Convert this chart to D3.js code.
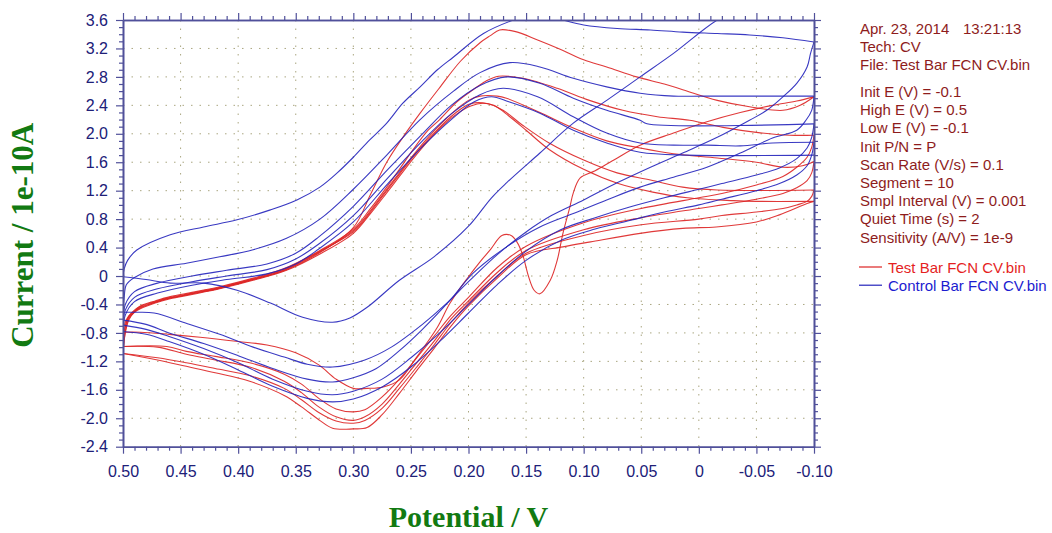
<!DOCTYPE html>
<html><head><meta charset="utf-8">
<script src="https://cdn.jsdelivr.net/npm/d3@7"></script>
<style>body{margin:0;background:#fff}svg{display:block}</style>
</head><body><svg id="chart" width="1052" height="533"></svg>
<script>
// ---------- axis ticks ----------
const xTicks = [0.50,0.45,0.40,0.35,0.30,0.25,0.20,0.15,0.10,0.05,0,-0.05,-0.10];
const xTickLabels = ["0.50","0.45","0.40","0.35","0.30","0.25","0.20","0.15","0.10","0.05","0","-0.05","-0.10"];
const yTicks = [3.6,3.2,2.8,2.4,2.0,1.6,1.2,0.8,0.4,0,-0.4,-0.8,-1.2,-1.6,-2.0,-2.4];
const yTickLabels = ["3.6","3.2","2.8","2.4","2.0","1.6","1.2","0.8","0.4","0","-0.4","-0.8","-1.2","-1.6","-2.0","-2.4"];

// ---------- info text ----------
const infoDate = "Apr. 23, 2014";
const infoTime = "13:21:13";
const infoHeader = ["Tech: CV", "File: Test Bar FCN CV.bin"];
const infoParams = ["Init E (V) = -0.1","High E (V) = 0.5","Low E (V) = -0.1","Init P/N = P",
  "Scan Rate (V/s) = 0.1","Segment = 10","Smpl Interval (V) = 0.001","Quiet Time (s) = 2","Sensitivity (A/V) = 1e-9"];
const legendNames = ["Test Bar FCN CV.bin","Control Bar FCN CV.bin"];

// ---------- Test (red) series: [potential V, current 1e-10 A] ----------
const testForward1 = [[-0.1,2.52],[-0.085,2.46],[-0.064,2.4],[-0.036,2.3],[-0.007,2.17],[0.022,2.01],[0.051,1.84],[0.075,1.62],[0.09,1.48],[0.103,1.38],[0.109,1.17],[0.112,0.97],[0.118,0.6],[0.123,0.22],[0.129,-0.06],[0.138,-0.25],[0.143,-0.2],[0.148,0.0],[0.153,0.3],[0.158,0.48],[0.163,0.57],[0.171,0.57],[0.181,0.37],[0.19,0.2],[0.2,-0.01],[0.216,-0.38],[0.227,-0.72],[0.245,-1.14],[0.26,-1.46],[0.274,-1.56],[0.288,-1.58],[0.3,-1.58],[0.315,-1.45],[0.33,-1.25],[0.35,-1.08],[0.375,-0.97],[0.4,-0.92],[0.433,-0.86],[0.46,-0.82],[0.485,-0.79],[0.5,-0.79]];
const testForward2 = [[-0.1,1.98],[-0.098,1.81],[-0.094,1.67],[-0.085,1.53],[-0.073,1.4],[-0.05,1.28],[-0.02,1.16],[0,1.1],[0.05,0.95],[0.1,0.75],[0.15,0.42],[0.175,0.12],[0.2,-0.3],[0.215,-0.55],[0.23,-0.85],[0.245,-1.15],[0.26,-1.45],[0.275,-1.7],[0.29,-1.88],[0.3,-1.91],[0.315,-1.87],[0.33,-1.72],[0.345,-1.52],[0.36,-1.38],[0.39,-1.22],[0.42,-1.13],[0.445,-1.06],[0.462,-0.99],[0.5,-0.99]];
const testForward3 = [[-0.1,1.61],[-0.098,1.45],[-0.094,1.34],[-0.085,1.24],[-0.073,1.16],[-0.05,1.08],[-0.02,1.0],[0,0.95],[0.05,0.82],[0.1,0.65],[0.15,0.36],[0.175,0.05],[0.2,-0.35],[0.215,-0.6],[0.23,-0.92],[0.245,-1.22],[0.26,-1.52],[0.275,-1.8],[0.29,-1.98],[0.3,-2.03],[0.315,-1.98],[0.33,-1.84],[0.345,-1.64],[0.36,-1.48],[0.39,-1.28],[0.42,-1.18],[0.445,-1.1],[0.47,-1.0],[0.5,-0.99]];
const testForward4 = [[-0.1,1.21],[-0.098,1.12],[-0.094,1.05],[-0.085,1.0],[-0.073,0.95],[-0.05,0.9],[-0.02,0.85],[0,0.8],[0.05,0.72],[0.1,0.57],[0.15,0.32],[0.175,0.0],[0.2,-0.38],[0.215,-0.65],[0.23,-0.97],[0.245,-1.28],[0.26,-1.58],[0.275,-1.86],[0.29,-2.03],[0.3,-2.07],[0.315,-2.04],[0.33,-1.92],[0.345,-1.74],[0.36,-1.58],[0.39,-1.4],[0.42,-1.3],[0.445,-1.22],[0.47,-1.15],[0.5,-1.09]];
const testForward5 = [[-0.1,1.05],[-0.094,1.02],[-0.07,0.86],[-0.05,0.76],[-0.015,0.69],[0.014,0.67],[0.051,0.6],[0.094,0.48],[0.118,0.41],[0.15,0.3],[0.175,-0.03],[0.2,-0.42],[0.215,-0.7],[0.23,-1.02],[0.245,-1.33],[0.26,-1.65],[0.275,-1.95],[0.288,-2.13],[0.3,-2.15],[0.318,-2.14],[0.33,-2.02],[0.345,-1.84],[0.36,-1.68],[0.39,-1.48],[0.42,-1.36],[0.445,-1.27],[0.47,-1.18],[0.5,-1.09]];
const testReverse1 = [[0.5,-1.09],[0.498,-0.8],[0.495,-0.62],[0.49,-0.5],[0.485,-0.44],[0.472,-0.37],[0.459,-0.31],[0.44,-0.25],[0.416,-0.17],[0.387,-0.05],[0.358,0.09],[0.329,0.33],[0.3,0.68],[0.285,1.15],[0.271,1.6],[0.257,1.95],[0.242,2.29],[0.225,2.65],[0.207,3.02],[0.19,3.28],[0.181,3.38],[0.173,3.46],[0.16,3.44],[0.14,3.32],[0.122,3.2],[0.1,3.04],[0.08,2.94],[0.054,2.8],[0.03,2.7],[0.014,2.62],[-0.016,2.47],[-0.044,2.38],[-0.073,2.33],[-0.088,2.4],[-0.1,2.52]];
const testReverse2 = [[0.5,-0.79],[0.498,-0.65],[0.495,-0.56],[0.49,-0.48],[0.485,-0.42],[0.472,-0.35],[0.459,-0.29],[0.44,-0.23],[0.416,-0.15],[0.387,-0.03],[0.358,0.12],[0.329,0.36],[0.3,0.66],[0.285,0.95],[0.271,1.25],[0.26,1.5],[0.248,1.78],[0.235,2.05],[0.225,2.2],[0.21,2.45],[0.196,2.62],[0.185,2.74],[0.174,2.81],[0.153,2.78],[0.123,2.64],[0.095,2.47],[0.066,2.33],[0.036,2.24],[0.008,2.19],[-0.021,2.09],[-0.05,2.02],[-0.079,1.98],[-0.1,1.98]];
const testReverse3 = [[0.5,-0.99],[0.498,-0.72],[0.495,-0.58],[0.49,-0.5],[0.485,-0.45],[0.472,-0.37],[0.459,-0.31],[0.44,-0.25],[0.416,-0.17],[0.387,-0.05],[0.358,0.1],[0.329,0.34],[0.3,0.64],[0.285,0.92],[0.271,1.22],[0.26,1.45],[0.248,1.7],[0.235,1.95],[0.222,2.17],[0.21,2.35],[0.2,2.47],[0.19,2.53],[0.175,2.53],[0.167,2.5],[0.138,2.3],[0.109,2.08],[0.08,1.9],[0.051,1.8],[0.022,1.72],[-0.016,1.66],[-0.05,1.6],[-0.073,1.53],[-0.09,1.55],[-0.1,1.61]];
const testReverse4 = [[0.5,-0.99],[0.498,-0.7],[0.495,-0.57],[0.49,-0.49],[0.485,-0.43],[0.472,-0.36],[0.459,-0.3],[0.44,-0.24],[0.416,-0.16],[0.387,-0.04],[0.358,0.11],[0.329,0.35],[0.3,0.62],[0.285,0.9],[0.271,1.2],[0.26,1.43],[0.248,1.68],[0.235,1.92],[0.222,2.14],[0.21,2.31],[0.199,2.42],[0.185,2.43],[0.17,2.33],[0.153,2.12],[0.13,1.87],[0.1,1.63],[0.071,1.45],[0.042,1.35],[0.014,1.25],[-0.016,1.21],[-0.1,1.21]];
const testReverse5 = [[0.5,-1.09],[0.498,-0.78],[0.495,-0.6],[0.49,-0.51],[0.485,-0.46],[0.472,-0.38],[0.459,-0.32],[0.44,-0.26],[0.416,-0.18],[0.387,-0.06],[0.358,0.08],[0.329,0.31],[0.3,0.6],[0.285,0.88],[0.271,1.17],[0.26,1.4],[0.248,1.65],[0.235,1.9],[0.222,2.12],[0.21,2.28],[0.198,2.39],[0.188,2.43],[0.178,2.4],[0.165,2.25],[0.15,2.05],[0.13,1.78],[0.1,1.5],[0.07,1.3],[0.04,1.18],[0.01,1.1],[-0.03,1.06],[-0.05,1.05],[-0.1,1.05]];

// ---------- Control (blue) series ----------
const controlForward1 = [[-0.04,3.78],[-0.016,3.6],[0.022,3.13],[0.051,2.8],[0.08,2.47],[0.109,2.15],[0.138,1.73],[0.167,1.31],[0.18,1.1],[0.2,0.7],[0.23,0.27],[0.26,-0.06],[0.288,-0.44],[0.303,-0.59],[0.318,-0.65],[0.344,-0.58],[0.372,-0.38],[0.401,-0.2],[0.43,-0.1],[0.459,-0.1],[0.48,-0.05],[0.5,-0.01]];
const controlReverse1 = [[0.5,-0.01],[0.499,0.1],[0.496,0.22],[0.488,0.365],[0.459,0.58],[0.43,0.69],[0.401,0.79],[0.372,0.93],[0.349,1.07],[0.329,1.25],[0.314,1.45],[0.3,1.67],[0.286,1.91],[0.271,2.15],[0.257,2.43],[0.242,2.66],[0.227,2.9],[0.213,3.08],[0.187,3.41],[0.161,3.6],[0.14,3.7],[0.118,3.6],[0.1,3.53],[0.071,3.48],[0.042,3.46],[0.014,3.43],[-0.016,3.41],[-0.044,3.39],[-0.073,3.35],[-0.1,3.29]];
const controlForward2 = [[-0.1,3.29],[-0.097,3.13],[-0.094,2.94],[-0.085,2.71],[-0.073,2.52],[-0.059,2.33],[-0.044,2.19],[-0.016,1.95],[0.014,1.73],[0.042,1.53],[0.071,1.31],[0.1,1.07],[0.128,0.85],[0.15,0.62],[0.175,0.3],[0.2,-0.08],[0.22,-0.4],[0.24,-0.68],[0.267,-1.0],[0.29,-1.18],[0.318,-1.28],[0.34,-1.24],[0.36,-1.14],[0.387,-1.0],[0.416,-0.82],[0.444,-0.67],[0.473,-0.52],[0.49,-0.51],[0.5,-0.51]];
const controlReverse2 = [[0.5,-0.51],[0.499,-0.3],[0.497,-0.12],[0.49,-0.02],[0.474,0.1],[0.445,0.18],[0.416,0.27],[0.387,0.37],[0.358,0.53],[0.329,0.8],[0.3,1.22],[0.271,1.7],[0.242,2.2],[0.213,2.6],[0.19,2.86],[0.164,3.0],[0.138,2.94],[0.109,2.78],[0.08,2.66],[0.051,2.57],[0.022,2.53],[-0.005,2.53],[-0.1,2.53]];
const controlForward3 = [[-0.1,2.53],[-0.098,2.33],[-0.093,2.19],[-0.085,2.05],[-0.064,1.94],[-0.036,1.73],[-0.007,1.53],[0.022,1.39],[0.051,1.25],[0.08,1.07],[0.109,0.88],[0.138,0.69],[0.167,0.41],[0.196,0.04],[0.216,-0.34],[0.24,-0.75],[0.26,-1.05],[0.28,-1.3],[0.3,-1.43],[0.318,-1.49],[0.34,-1.45],[0.37,-1.3],[0.4,-1.12],[0.43,-0.95],[0.46,-0.8],[0.48,-0.68],[0.5,-0.62]];
const controlReverse3 = [[0.5,-0.62],[0.498,-0.4],[0.49,-0.22],[0.47,-0.1],[0.44,0.0],[0.41,0.08],[0.375,0.17],[0.35,0.32],[0.33,0.55],[0.3,0.98],[0.27,1.5],[0.24,2.0],[0.215,2.4],[0.19,2.68],[0.167,2.8],[0.138,2.71],[0.109,2.5],[0.08,2.33],[0.051,2.19],[0.045,2.14],[-0.1,2.14]];
const controlForward4 = [[-0.1,2.14],[-0.098,1.95],[-0.094,1.8],[-0.085,1.65],[-0.07,1.52],[-0.05,1.42],[-0.02,1.3],[0,1.22],[0.03,1.1],[0.06,0.97],[0.09,0.82],[0.12,0.65],[0.15,0.35],[0.175,0.0],[0.2,-0.4],[0.225,-0.8],[0.25,-1.15],[0.275,-1.45],[0.3,-1.62],[0.318,-1.67],[0.34,-1.62],[0.37,-1.45],[0.4,-1.22],[0.43,-1.02],[0.46,-0.85],[0.48,-0.75],[0.5,-0.69]];
const controlReverse4 = [[0.5,-0.69],[0.498,-0.48],[0.49,-0.3],[0.47,-0.18],[0.44,-0.08],[0.41,0.0],[0.375,0.09],[0.35,0.24],[0.33,0.45],[0.3,0.85],[0.27,1.38],[0.24,1.9],[0.215,2.28],[0.19,2.55],[0.17,2.64],[0.14,2.52],[0.109,2.24],[0.08,2.01],[0.051,1.87],[0.022,1.84],[-0.007,1.84],[-0.036,1.83],[-0.064,1.87],[-0.1,1.88]];
const controlForward5 = [[-0.1,1.88],[-0.098,1.7],[-0.094,1.55],[-0.085,1.42],[-0.07,1.3],[-0.05,1.2],[-0.02,1.08],[0,1.0],[0.03,0.9],[0.06,0.78],[0.09,0.66],[0.12,0.5],[0.15,0.22],[0.175,-0.12],[0.2,-0.52],[0.225,-0.92],[0.25,-1.28],[0.275,-1.56],[0.3,-1.73],[0.318,-1.77],[0.34,-1.72],[0.37,-1.55],[0.4,-1.32],[0.43,-1.1],[0.46,-0.92],[0.48,-0.82],[0.5,-0.78]];
const controlReverse5 = [[0.5,-0.78],[0.498,-0.55],[0.49,-0.36],[0.47,-0.24],[0.44,-0.13],[0.41,-0.05],[0.375,0.03],[0.35,0.17],[0.33,0.38],[0.3,0.76],[0.27,1.3],[0.24,1.82],[0.215,2.2],[0.195,2.45],[0.18,2.52],[0.165,2.45],[0.138,2.29],[0.109,2.05],[0.08,1.87],[0.051,1.74],[0.01,1.7],[-0.1,1.7]];

const testSegments = [testForward5, testReverse1, testForward1, testReverse2, testForward2, testReverse3, testForward3, testReverse4, testForward4, testReverse5];
const controlSegments = [controlForward1, controlReverse1, controlForward2, controlReverse2, controlForward3, controlReverse3, controlForward4, controlReverse4, controlForward5, controlReverse5];

// ---------- drawing ----------
const L = 123, R = 814, T = 20, B = 446.7;
const AXIS = "#50509a", TXT = "#202078", GRID = "#aaa680";
const RED = "#dd2424", BLUE = "#2424bb";

const svg = d3.select("#chart");
const x = d3.scaleLinear().domain([0.5, -0.1]).range([L, R]);
const y = d3.scaleLinear().domain([-2.4, 3.6]).range([B, T]);

svg.append("defs").append("clipPath").attr("id", "plotclip")
  .append("rect").attr("x", L).attr("y", T).attr("width", R - L).attr("height", B - T);

// grid
const grid = svg.append("g");
grid.selectAll(".vg").data(xTicks.slice(1, -1)).join("line")
  .attr("x1", d => x(d)).attr("x2", d => x(d)).attr("y1", T).attr("y2", B)
  .attr("stroke", GRID).attr("stroke-width", 1).attr("stroke-dasharray", "1.5,7");
grid.selectAll(".hg").data(yTicks.slice(1, -1)).join("line")
  .attr("y1", d => y(d)).attr("y2", d => y(d)).attr("x1", L).attr("x2", R)
  .attr("stroke", GRID).attr("stroke-width", 1).attr("stroke-dasharray", "1.5,7");

// curves
const line = d3.line().x(d => x(d[0])).y(d => y(d[1])).curve(d3.curveCatmullRom.alpha(0.5));
const curves = svg.append("g").attr("clip-path", "url(#plotclip)");
curves.selectAll(".t").data(testSegments).join("path")
  .attr("d", line).attr("fill", "none").attr("stroke", RED).attr("stroke-width", 1.1).attr("stroke-opacity", 0.9);
curves.selectAll(".c").data(controlSegments).join("path")
  .attr("d", line).attr("fill", "none").attr("stroke", BLUE).attr("stroke-width", 1.1).attr("stroke-opacity", 0.9);

// minor tick values
const xMinor = d3.range(0, 61).filter(i => i % 5 !== 0).map(i => +(-0.1 + i * 0.01).toFixed(2));
const yMinor = d3.range(0, 61).filter(i => i % 4 !== 0).map(i => +(-2.4 + i * 0.1).toFixed(2));

function styleAxis(g) {
  g.selectAll("path.domain").attr("stroke", AXIS).attr("stroke-width", 1.6);
  g.selectAll(".tick line").attr("stroke", AXIS).attr("stroke-width", 1.2);
  g.selectAll(".tick text").attr("fill", TXT).style("font-family", "Liberation Sans, Arial, sans-serif").style("font-size", "16px");
}

// bottom
svg.append("g").attr("transform", `translate(0,${B})`)
  .call(d3.axisBottom(x).tickValues(xTicks).tickFormat((d, i) => xTickLabels[i]).tickSize(7).tickSizeOuter(0).tickPadding(12))
  .call(styleAxis);
svg.append("g").attr("transform", `translate(0,${B})`)
  .call(d3.axisBottom(x).tickValues(xMinor).tickFormat("").tickSize(4).tickSizeOuter(0)).call(styleAxis);
// top
svg.append("g").attr("transform", `translate(0,${T})`)
  .call(d3.axisTop(x).tickValues(xTicks).tickFormat("").tickSize(7).tickSizeOuter(0)).call(styleAxis);
svg.append("g").attr("transform", `translate(0,${T})`)
  .call(d3.axisTop(x).tickValues(xMinor).tickFormat("").tickSize(4).tickSizeOuter(0)).call(styleAxis);
// left
svg.append("g").attr("transform", `translate(${L},0)`)
  .call(d3.axisLeft(y).tickValues(yTicks).tickFormat((d, i) => yTickLabels[i]).tickSize(7).tickSizeOuter(0).tickPadding(8))
  .call(styleAxis);
svg.append("g").attr("transform", `translate(${L},0)`)
  .call(d3.axisLeft(y).tickValues(yMinor).tickFormat("").tickSize(4).tickSizeOuter(0)).call(styleAxis);
// right
svg.append("g").attr("transform", `translate(${R},0)`)
  .call(d3.axisRight(y).tickValues(yTicks).tickFormat("").tickSize(7).tickSizeOuter(0)).call(styleAxis);
svg.append("g").attr("transform", `translate(${R},0)`)
  .call(d3.axisRight(y).tickValues(yMinor).tickFormat("").tickSize(4).tickSizeOuter(0)).call(styleAxis);

// axis titles
svg.append("text").attr("x", (L + R) / 2).attr("y", 527).attr("text-anchor", "middle")
  .style("font-family", "Liberation Serif, Times New Roman, serif").style("font-weight", "bold")
  .style("font-size", "30px").attr("fill", "#127a12").text("Potential / V");
svg.append("text").attr("transform", `translate(33,${(T + B) / 2 + 2}) rotate(-90)`).attr("text-anchor", "middle")
  .style("font-family", "Liberation Serif, Times New Roman, serif").style("font-weight", "bold")
  .style("font-size", "31px").attr("fill", "#127a12").text("Current / 1e-10A");

// info block
const info = svg.append("g").style("font-family", "Liberation Sans, Arial, sans-serif").style("font-size", "15px").attr("fill", "#8e1c1c");
info.append("text").attr("x", 860).attr("y", 34).text(infoDate);
info.append("text").attr("x", 963).attr("y", 34).text(infoTime);
info.selectAll(".h").data(infoHeader).join("text").attr("x", 860).attr("y", (d, i) => 52 + i * 18.2).text(d => d);
info.selectAll(".p").data(infoParams).join("text").attr("x", 860).attr("y", (d, i) => 97 + i * 18.2).text(d => d);

// legend
const leg = svg.append("g").style("font-family", "Liberation Sans, Arial, sans-serif").style("font-size", "15px");
legendNames.forEach((n, i) => {
  const yy = 267 + i * 18.2;
  leg.append("line").attr("x1", 859).attr("x2", 882).attr("y1", yy).attr("y2", yy).attr("stroke", i ? BLUE : RED).attr("stroke-width", 1.2);
  leg.append("text").attr("x", 888).attr("y", yy + 5.5).attr("fill", i ? "#1c1cd0" : "#e51f1f").text(n);
});
</script>
</body></html>
